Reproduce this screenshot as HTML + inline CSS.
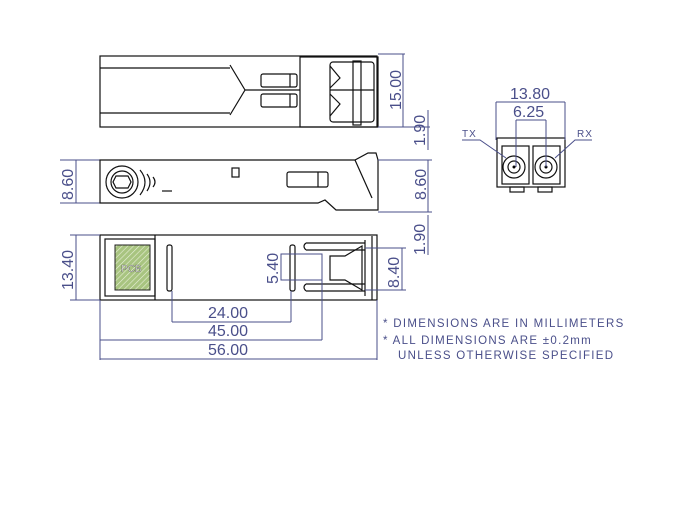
<!DOCTYPE html>
<html><head><style>
html,body{margin:0;padding:0;background:#fff;width:700px;height:519px;overflow:hidden}
svg{display:block}
.d{stroke:#4a4f8a;stroke-width:1;fill:none}
.k{stroke:#111;stroke-width:1.2;fill:none}
.t{font-family:"Liberation Sans",sans-serif;fill:#4a4f8a;font-size:16px}
.n{font-family:"Liberation Sans",sans-serif;fill:#4a4f8a;font-size:11.5px;letter-spacing:1.3px}
</style></head><body>
<svg width="700" height="519" viewBox="0 0 700 519">
<defs>
<pattern id="h" width="4" height="4" patternUnits="userSpaceOnUse" patternTransform="rotate(45)">
<rect width="4" height="4" fill="#a8c480"/><line x1="0" y1="0" x2="0" y2="4" stroke="#e8f0d8" stroke-width="1.2"/></pattern>
</defs>
<!-- TOP VIEW -->
<rect class="k" x="100" y="56" width="277" height="71"/>
<line class="k" x1="100" y1="68" x2="230" y2="68"/>
<line class="k" x1="100" y1="113" x2="230" y2="113"/>
<polyline class="k" points="230,65 245,90 230,115"/>
<line class="k" x1="245" y1="90" x2="300" y2="90"/>
<rect class="k" x="261" y="74" width="36" height="13" rx="2"/>
<rect class="k" x="261" y="94" width="36" height="13" rx="2"/>
<line class="k" x1="290" y1="74" x2="290" y2="87"/><line class="k" x1="290" y1="94" x2="290" y2="107"/>
<rect class="k" x="300" y="57" width="78" height="70"/>
<rect class="k" x="330" y="62" width="44" height="60" rx="3"/>
<rect class="k" x="353" y="61" width="8" height="64"/>
<line class="k" x1="330" y1="90" x2="374" y2="90"/>
<polyline class="k" points="330,66 340,78 330,88"/><polyline class="k" points="330,94 340,104 330,116"/>
<!-- dims top -->
<line class="d" x1="378" y1="54" x2="405" y2="54"/><line class="d" x1="378" y1="127" x2="430" y2="127"/>
<line class="d" x1="403" y1="54" x2="403" y2="127"/>
<text class="t" transform="translate(401,110) rotate(-90)">15.00</text>
<line class="d" x1="428" y1="110" x2="428" y2="150"/>
<text class="t" transform="translate(425,146) rotate(-90)">1.90</text>
<!-- SIDE VIEW -->
<line class="d" x1="60" y1="160" x2="100" y2="160"/><line class="d" x1="60" y1="203" x2="100" y2="203"/>
<line class="d" x1="76" y1="160" x2="76" y2="203"/>
<text class="t" transform="translate(73,200) rotate(-90)">8.60</text>
<path class="k" d="M100,160 H355 L368,153 H376 L378,160 V210 H336 L325,200 L318,203 H100 Z"/>
<line class="k" x1="355" y1="160" x2="372" y2="198"/>
<circle class="k" cx="122" cy="182" r="16"/><circle class="k" cx="122" cy="182" r="11"/>
<polygon class="k" points="116,176 128,176 131,182 128,188 116,188 113,182"/>
<path class="k" d="M140,170 Q150,182 140,195 M147,174 Q153,182 147,191 M153,177 Q157,182 153,187"/>
<line class="k" x1="162" y1="191" x2="172" y2="191"/>
<rect class="k" x="232" y="168" width="7" height="9"/>
<rect class="k" x="287" y="172" width="41" height="15" rx="2"/><line class="k" x1="318" y1="172" x2="318" y2="187"/>
<line class="d" x1="378" y1="160" x2="432" y2="160"/><line class="d" x1="378" y1="212" x2="432" y2="212"/>
<line class="d" x1="428" y1="160" x2="428" y2="212"/>
<text class="t" transform="translate(426,200) rotate(-90)">8.60</text>
<line class="d" x1="428" y1="215" x2="428" y2="255"/>
<text class="t" transform="translate(425,255) rotate(-90)">1.90</text>
<!-- BOTTOM VIEW -->
<rect class="k" x="100" y="235" width="277" height="65"/>
<rect class="k" x="105" y="239" width="50" height="57"/>
<line class="k" x1="155" y1="235" x2="155" y2="300"/>
<rect x="115" y="245" width="35" height="45" fill="url(#h)" stroke="#222"/>
<text x="121" y="272" font-family="Liberation Sans,sans-serif" font-size="10" fill="#fff" stroke="#333" stroke-width=".3">PCB</text>
<rect class="k" x="167" y="245" width="5" height="46" rx="2"/>
<rect class="k" x="290" y="245" width="5" height="46" rx="2"/>
<path class="k" d="M306,243 H365 M306,250 H365 M306,284 H365 M306,291 H365 M306,243 Q302,246 306,250 M306,284 Q302,287 306,291"/>
<path class="k" d="M330,256 H345 L362,246 V290 L345,280 H330 Z"/>
<line class="k" x1="365" y1="240" x2="365" y2="296"/><line class="k" x1="372" y1="236" x2="372" y2="300"/>
<rect class="d" x="281" y="254" width="41" height="26"/>
<text class="t" transform="translate(278,284) rotate(-90)">5.40</text>
<line class="d" x1="365" y1="248" x2="406" y2="248"/><line class="d" x1="365" y1="290" x2="406" y2="290"/>
<line class="d" x1="402" y1="248" x2="402" y2="290"/>
<text class="t" transform="translate(399,288) rotate(-90)">8.40</text>
<line class="d" x1="70" y1="235" x2="100" y2="235"/><line class="d" x1="70" y1="300" x2="100" y2="300"/>
<line class="d" x1="76" y1="235" x2="76" y2="300"/>
<text class="t" transform="translate(73,290) rotate(-90)">13.40</text>
<line class="d" x1="172" y1="291" x2="172" y2="322"/><line class="d" x1="291" y1="291" x2="291" y2="322"/>
<line class="d" x1="172" y1="322" x2="291" y2="322"/><text class="t" x="208" y="318">24.00</text>
<line class="d" x1="100" y1="300" x2="100" y2="360"/><line class="d" x1="322" y1="280" x2="322" y2="340"/>
<line class="d" x1="100" y1="340" x2="322" y2="340"/><text class="t" x="208" y="336">45.00</text>
<line class="d" x1="377" y1="300" x2="377" y2="360"/>
<line class="d" x1="100" y1="359" x2="377" y2="359"/><text class="t" x="208" y="355">56.00</text>
<text class="n" x="383" y="327">* DIMENSIONS ARE IN MILLIMETERS</text>
<text class="n" x="383" y="344">* ALL DIMENSIONS ARE ±0.2mm</text>
<text class="n" x="398" y="359">UNLESS OTHERWISE SPECIFIED</text>
<!-- FRONT VIEW -->
<rect class="k" x="497" y="138" width="68" height="49"/>
<rect class="k" x="502" y="146" width="27" height="38"/><rect class="k" x="533" y="146" width="27" height="38"/>
<circle class="k" cx="514" cy="167" r="11"/><circle class="k" cx="514" cy="167" r="6"/><circle cx="514" cy="167" r="1.5"/>
<circle class="k" cx="546" cy="167" r="11"/><circle class="k" cx="546" cy="167" r="6"/><circle cx="546" cy="167" r="1.5"/>
<rect class="k" x="510" y="187" width="14" height="5"/><rect class="k" x="538" y="187" width="14" height="5"/>
<line class="d" x1="496" y1="102" x2="565" y2="102"/><line class="d" x1="496" y1="102" x2="496" y2="140"/><line class="d" x1="565" y1="102" x2="565" y2="140"/>
<text class="t" x="510" y="99">13.80</text>
<line class="d" x1="516" y1="120" x2="546" y2="120"/><line class="d" x1="516" y1="120" x2="516" y2="167"/><line class="d" x1="546" y1="120" x2="546" y2="167"/>
<text class="t" x="513" y="117">6.25</text>
<text class="n" x="462" y="137" style="font-size:10px;letter-spacing:1px">TX</text>
<polyline class="d" points="462,140 480,140 506,158"/>
<text class="n" x="577" y="137" style="font-size:10px;letter-spacing:1px">RX</text>
<polyline class="d" points="592,140 575,140 555,158"/>
</svg>
</body></html>
